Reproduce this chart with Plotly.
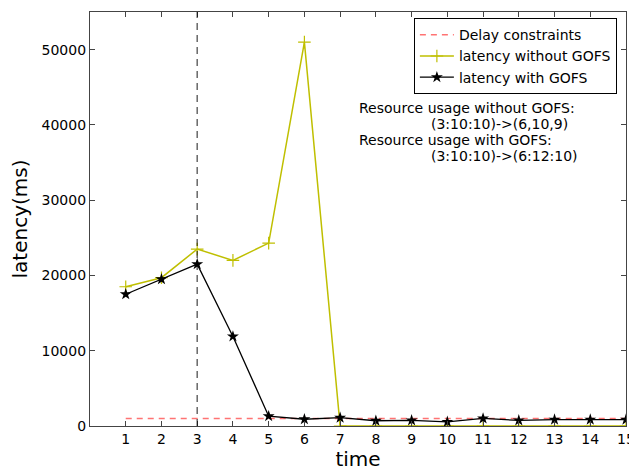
import plotly.graph_objects as go

time = list(range(1, 16))
latency_without = [18500, 19700, 23500, 22000, 24300, 51000, 0, 0, 0, 0, 0, 0, 0, 0, 0]
latency_with = [17500, 19500, 21500, 11900, 1300, 900, 1100, 700, 750, 550, 1000, 750, 850, 850, 850]
delay_constraint = [1000] * 15
marker_time = 3
y_max = 55000
x_ticks = list(range(1, 16))
y_ticks = [0, 10000, 20000, 30000, 40000, 50000]
notes = [
    "Resource usage without GOFS:",
    "(3:10:10)->(6,10,9)",
    "Resource usage with GOFS:",
    "(3:10:10)->(6:12:10)",
]

FONT = "DejaVu Sans"
AX = "#444444"

fig = go.Figure()
fig.add_trace(go.Scatter(
    x=time, y=delay_constraint, mode="lines", name="Delay constraints",
    line=dict(color="rgba(255,0,0,0.55)", dash="6px,5px", width=1.5),
))
fig.add_trace(go.Scatter(
    x=time, y=latency_without, mode="lines+markers", name="latency without GOFS",
    line=dict(color="#bfbf00", width=1.5),
    marker=dict(symbol="cross-thin", size=9, line=dict(color="#bfbf00", width=1.2)),
))
fig.add_trace(go.Scatter(
    x=time, y=latency_with, mode="lines+markers", name="latency with GOFS",
    line=dict(color="black", width=1.3),
    marker=dict(symbol="star", size=9, color="black"),
))
fig.add_vline(x=marker_time, line=dict(color="rgba(0,0,0,0.6)", dash="7px,5px", width=1.5))

ys = [0.769, 0.730, 0.691, 0.652]
xs = [0.499, 0.633, 0.499, 0.633]
for t, xp, yp in zip(notes, xs, ys):
    fig.add_annotation(text=t, xref="paper", yref="paper", x=xp, y=yp,
                       xanchor="left", yanchor="middle", showarrow=False,
                       font=dict(family=FONT, size=14, color="black"))

fig.update_layout(
    width=629, height=471,
    margin=dict(l=89.5, r=3, t=12, b=45.3, autoexpand=False),
    paper_bgcolor="white", plot_bgcolor="white",
    font=dict(family=FONT, size=14, color="black"),
    showlegend=True,
    legend=dict(x=0.983, y=0.985, xanchor="right", yanchor="top",
                bordercolor="black", borderwidth=1, bgcolor="white",
                font=dict(family=FONT, size=14), tracegroupgap=0, itemwidth=34),
)
fig.update_xaxes(range=[0, 15], tickvals=x_ticks, ticks="inside", ticklen=5,
                 tickcolor=AX, showline=True, linecolor=AX, linewidth=1.2,
                 mirror="ticks", showgrid=False, zeroline=False, automargin=False,
                 ticklabeloverflow="allow",
                 title=dict(text="time", font=dict(size=20), standoff=4),
                 tickfont=dict(size=14))
fig.update_yaxes(range=[0, y_max], tickvals=y_ticks, tickformat="d", ticks="inside",
                 ticklen=5, tickcolor=AX, showline=True, linecolor=AX, linewidth=1.2,
                 mirror="ticks", showgrid=False, zeroline=False, automargin=False,
                 title=dict(text="latency(ms)", font=dict(size=20), standoff=8),
                 tickfont=dict(size=14))

fig.write_html(
    "out.html",
    config={"displayModeBar": False},
    post_script="document.body.style.margin='0';document.body.style.overflow='hidden';",
)
